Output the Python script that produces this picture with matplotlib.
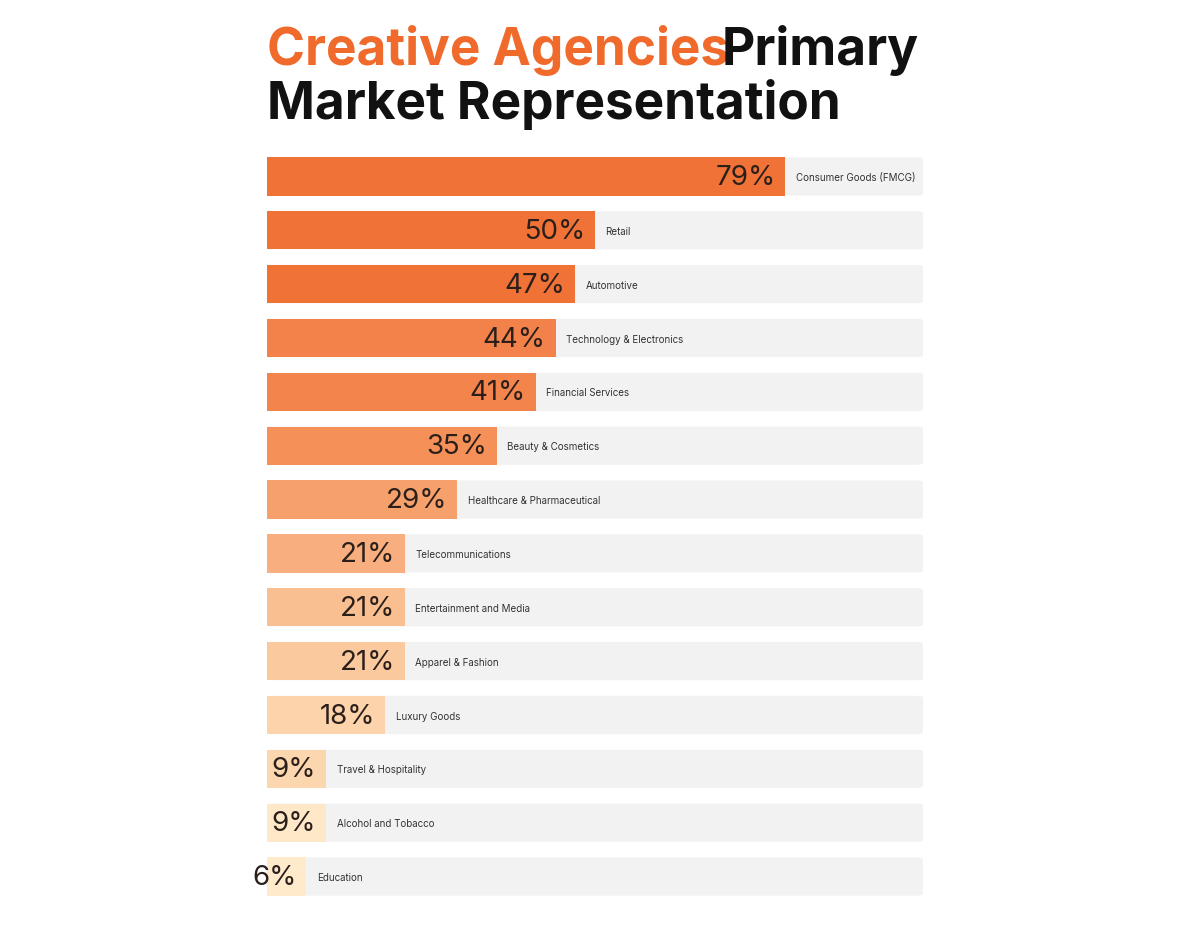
import matplotlib
matplotlib.use("Agg")
import matplotlib.pyplot as plt
from matplotlib.patches import FancyBboxPatch

categories = ["Consumer Goods (FMCG)", "Retail", "Automotive", "Technology & Electronics",
              "Financial Services", "Beauty & Cosmetics", "Healthcare & Pharmaceutical",
              "Telecommunications", "Entertainment and Media", "Apparel & Fashion",
              "Luxury Goods", "Travel & Hospitality", "Alcohol and Tobacco", "Education"]
values = [79, 50, 47, 44, 41, 35, 29, 21, 21, 21, 18, 9, 9, 6]
colors = ["#F07236", "#F07236", "#F07236", "#F2824A", "#F2844C", "#F49058", "#F6A06C",
          "#F8AE7E", "#FABF90", "#FBC99E", "#FCD3AA", "#FCD6AE", "#FFE8C8", "#FFEACC"]

W, H = 1200, 943
fig = plt.figure(figsize=(W/100, H/100), dpi=100)
fig.patch.set_facecolor("white")

top, bottom = 157, 911
ax = fig.add_axes([267/W, 1 - bottom/H, (923-267)/W, (bottom-top)/H])
n = len(values)
ax.set_xlim(0, 100)
ax.set_ylim(n - 0.5 + 0.14, -0.5 + 0.14)
ax.axis("off")
h = 0.71
for i, (c, v, col) in enumerate(zip(categories, values, colors)):
    ax.add_patch(FancyBboxPatch((0, i - h/2), 100, h, boxstyle="round,pad=0,rounding_size=0.8",
                                facecolor="#F2F2F2", edgecolor="none", mutation_aspect=0.05))
    ax.barh(i, v, height=h, color=col, edgecolor="none")
    ax.text(v - 1.5, i + 0.03, f"{v}%", ha="right", va="center", fontsize=20,
            family="Inter", color="#2A1F1A")
    ax.text(v + 1.6, i + 0.03, c, ha="left", va="center", fontsize=7,
            family="Inter", color="#333333")

fig.text(267/W, 1 - 50/H, "Creative Agencies", color="#F06A2C", fontsize=37,
         fontweight="bold", family="Inter", va="center", ha="left")
fig.text(722/W, 1 - 50/H, "Primary", color="#111111", fontsize=37,
         fontweight="bold", family="Inter", va="center", ha="left")
fig.text(267/W, 1 - 105/H, "Market Representation", color="#111111", fontsize=37,
         fontweight="bold", family="Inter", va="center", ha="left")

fig.savefig("out.png", dpi=100, facecolor="white")
